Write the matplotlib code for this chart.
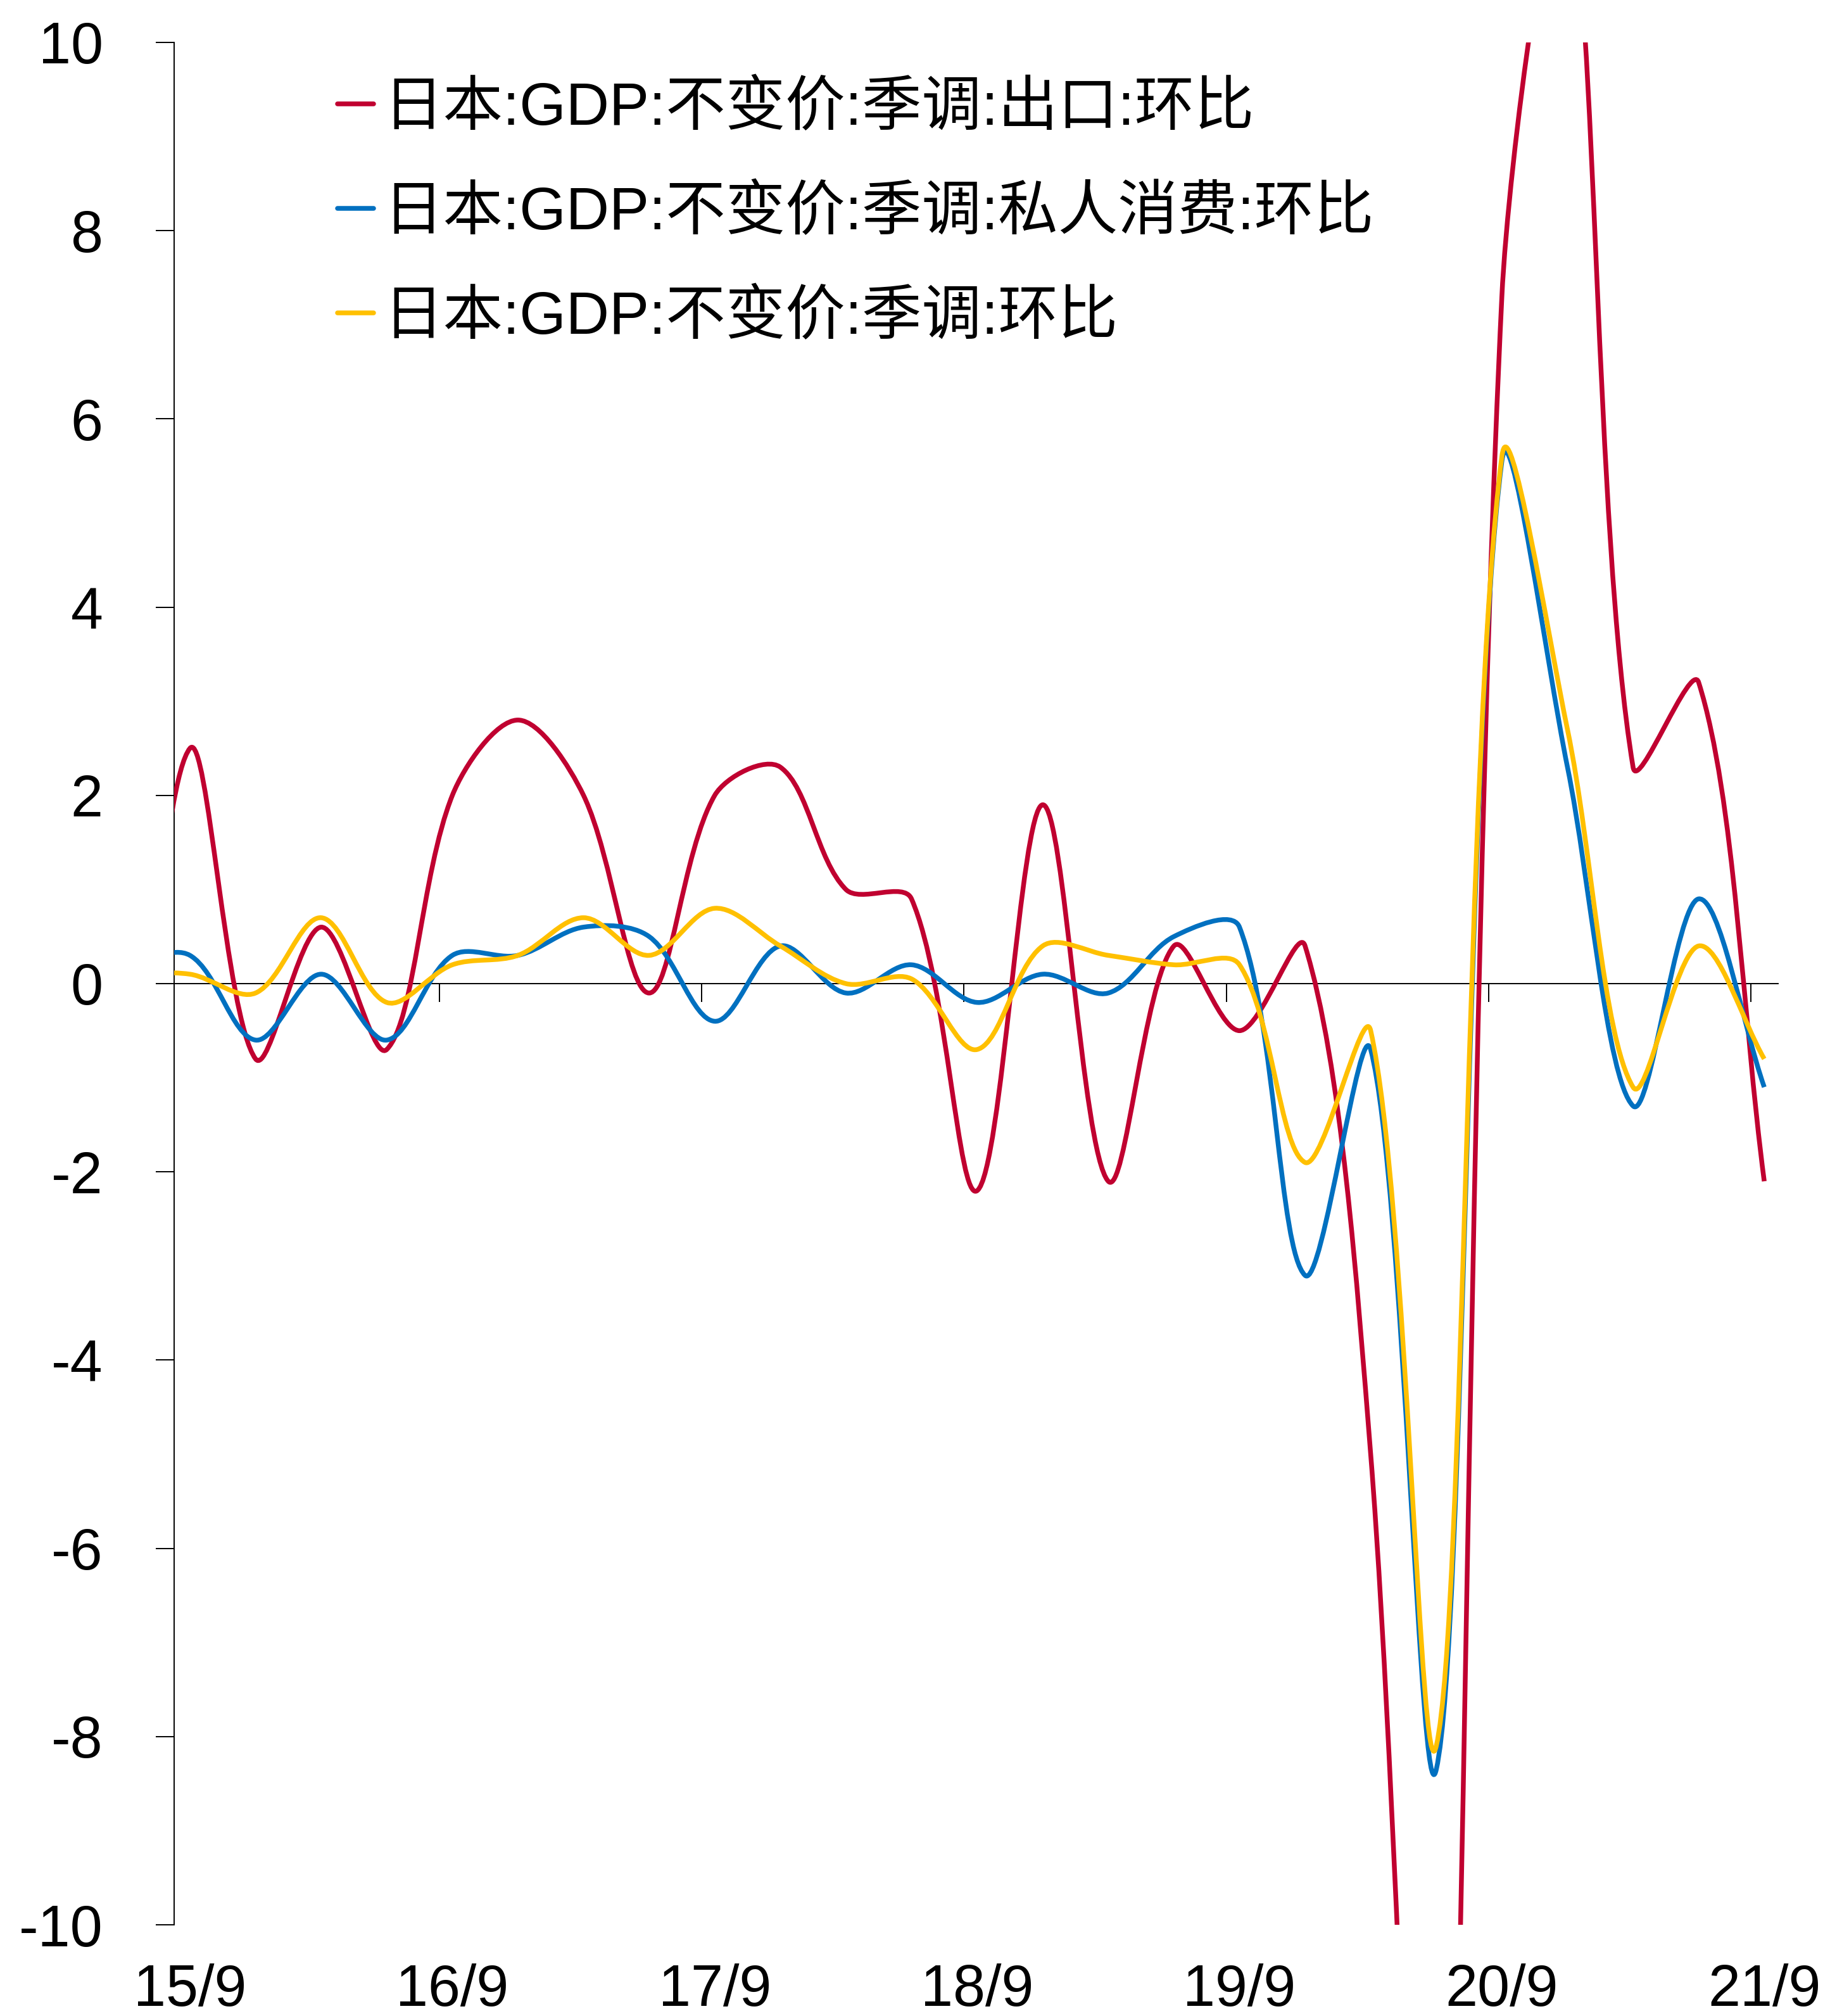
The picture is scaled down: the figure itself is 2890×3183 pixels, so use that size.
import numpy as np
import matplotlib.pyplot as plt
from matplotlib.path import Path
from matplotlib.patches import PathPatch
from matplotlib.lines import Line2D

# 季度 (15/6 只用于曲线左端的走势, 落在坐标轴左侧被裁掉)
quarters = ['15/6', '15/9', '15/12', '16/3', '16/6', '16/9', '16/12', '17/3', '17/6',
            '17/9', '17/12', '18/3', '18/6', '18/9', '18/12', '19/3', '19/6', '19/9',
            '19/12', '20/3', '20/6', '20/9', '20/12', '21/3', '21/6', '21/9']

exports = [-2.5, 2.5, -0.8, 0.6, -0.7, 2.0, 2.8, 2.0, -0.1, 2.0, 2.3, 1.0, 0.9,
           -2.2, 1.9, -2.1, 0.4, -0.5, 0.4, -5.0, -17.0, 7.3, 11.7, 2.3, 3.2, -2.1]
consumption = [0.2, 0.3, -0.6, 0.1, -0.6, 0.3, 0.3, 0.6, 0.5, -0.4, 0.4, -0.1, 0.2,
               -0.2, 0.1, -0.1, 0.5, 0.6, -3.1, -0.7, -8.35, 5.55, 2.3, -1.3, 0.9, -1.1]
gdp = [0.1, 0.1, -0.1, 0.7, -0.2, 0.2, 0.3, 0.7, 0.3, 0.8, 0.4, 0.0, 0.05,
       -0.7, 0.4, 0.3, 0.2, 0.2, -1.9, -0.5, -8.1, 5.6, 2.7, -1.1, 0.4, -0.8]

names = ['日本:GDP:不变价:季调:出口:环比',
         '日本:GDP:不变价:季调:私人消费:环比',
         '日本:GDP:不变价:季调:环比']
colors = ['#C00030', '#0070C0', '#FFC000']

fonts = ['Liberation Sans', 'Noto Sans CJK SC']
plt.rcParams['font.family'] = fonts
plt.rcParams['axes.unicode_minus'] = False


def smooth_path(x, y, sx, sy):
    # courbe lissée façon Excel : Bezier cubique, tangentes pondérées par la longueur des segments (en pixels)
    pts = np.column_stack([x, y]).astype(float)
    n = len(pts)
    d = np.hypot((pts[1:, 0] - pts[:-1, 0]) * sx, (pts[1:, 1] - pts[:-1, 1]) * sy)
    verts = [pts[0]]
    codes = [Path.MOVETO]
    for i in range(n - 1):
        p0, p1 = pts[i], pts[i + 1]
        if i == 0:
            c1 = p0 + (p1 - p0) / 3
        else:
            c1 = p0 + (pts[i + 1] - pts[i - 1]) / 3 * d[i] / (d[i - 1] + d[i])
        if i == n - 2:
            c2 = p1 - (p1 - p0) / 3
        else:
            c2 = p1 - (pts[i + 2] - pts[i]) / 3 * d[i] / (d[i] + d[i + 1])
        verts += [c1, c2, p1]
        codes += [Path.CURVE4] * 3
    return Path(verts, codes)


fig = plt.figure(figsize=(28.9, 31.83), dpi=100)
ax = fig.add_axes([0.0952, 0.0452, 0.8764, 0.9338])

x = np.arange(len(quarters)) - 1
ax.set_xlim(-0.24, 24.21)
ax.set_ylim(-10, 10)

bb = ax.bbox
sx = bb.width / (24.21 + 0.24)
sy = bb.height / 20.0

for vals, c in zip([exports, consumption, gdp], colors):
    ax.add_patch(PathPatch(smooth_path(x, vals, sx, sy), fill=False, edgecolor=c,
                           lw=5.4, joinstyle='round', capstyle='butt', zorder=3))

# axes
for s in ['top', 'right', 'bottom']:
    ax.spines[s].set_visible(False)
ax.spines['left'].set_linewidth(1.4)
ax.set_yticks(np.arange(-10, 11, 2))
ax.tick_params(axis='y', direction='out', length=21, width=1.4, pad=60, labelsize=66)

lab_idx = [i for i, q in enumerate(quarters) if q.endswith('/9')]
ax.set_xticks(x[lab_idx])
ax.set_xticklabels([quarters[i] for i in lab_idx])
ax.tick_params(axis='x', length=0, pad=44, labelsize=66)

# ligne du zéro avec ses graduations
zero = ax.secondary_xaxis(0.5)
zero.spines['top'].set_linewidth(1.4)
zero.set_xticks(np.arange(3.8, 24, 4))
zero.tick_params(axis='x', direction='in', length=21, width=1.4, labeltop=False, labelbottom=False)

handles = [Line2D([], [], color=c, lw=5.4, solid_capstyle='round') for c in colors]
ax.legend(handles, names, loc='upper left', bbox_to_anchor=(0.1844, 0.960),
          bbox_transform=fig.transFigure, frameon=False, borderpad=0, borderaxespad=0,
          handlelength=0.6, handletextpad=0.17, labelspacing=0.80,
          prop={'family': fonts, 'size': 68})

fig.savefig('out.png', dpi=100)
